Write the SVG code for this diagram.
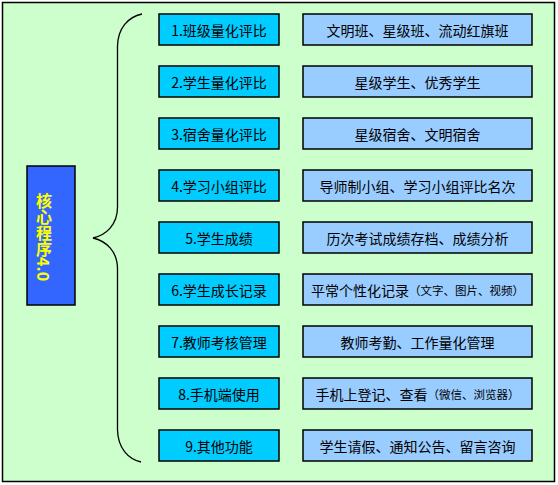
<svg xmlns="http://www.w3.org/2000/svg" width="558" height="485" viewBox="0 0 558 485">
<style>
.bg{fill:#CCFFCC;stroke:#000;stroke-width:1.5}
.l{fill:#00CCFF;stroke:#000;stroke-width:1.5}
.r{fill:#99CCFF;stroke:#000;stroke-width:1.5}
text{font-family:"Noto Sans CJK SC","Noto Sans",sans-serif;font-size:14px;fill:#000;text-anchor:middle;dominant-baseline:central}
.s{font-size:11.5px}
.core{fill:#FFFF00;font-size:16px;font-weight:bold}
</style>
<rect class="bg" x="2.5" y="2.5" width="552" height="479"/>
<g id="core">
<rect x="27" y="166" width="48" height="139" fill="#3366FF" stroke="#000" stroke-width="1.5"/>
<text class="core" x="44" y="193" writing-mode="tb" style="dominant-baseline:central;text-anchor:start">核心程序4.0</text>
</g>
<g id="connectors">
<path d="M142 14 C128 17 118 28 117.5 46 L117.5 207 C117.5 225 106 235 93 238 C106 241 117.5 251 117.5 269 L117.5 430 C118 448 128 459 141 462" fill="none" stroke="#000" stroke-width="1.3"/>
</g>
<g id="n1"><rect class="l" x="159" y="14" width="120" height="31"/><text x="219" y="30">1.班级量化评比</text></g>
<g id="d1"><rect class="r" x="303" y="14" width="229" height="31"/><text x="417.5" y="30">文明班、星级班、流动红旗班</text></g>
<g id="n2"><rect class="l" x="159" y="66" width="120" height="31"/><text x="219" y="82">2.学生量化评比</text></g>
<g id="d2"><rect class="r" x="303" y="66" width="229" height="31"/><text x="417.5" y="82">星级学生、优秀学生</text></g>
<g id="n3"><rect class="l" x="159" y="118" width="120" height="31"/><text x="219" y="134">3.宿舍量化评比</text></g>
<g id="d3"><rect class="r" x="303" y="118" width="229" height="31"/><text x="417.5" y="134">星级宿舍、文明宿舍</text></g>
<g id="n4"><rect class="l" x="159" y="170" width="120" height="31"/><text x="219" y="186">4.学习小组评比</text></g>
<g id="d4"><rect class="r" x="303" y="170" width="229" height="31"/><text x="417.5" y="186">导师制小组、学习小组评比名次</text></g>
<g id="n5"><rect class="l" x="159" y="222" width="120" height="31"/><text x="219" y="238">5.学生成绩</text></g>
<g id="d5"><rect class="r" x="303" y="222" width="229" height="31"/><text x="417.5" y="238">历次考试成绩存档、成绩分析</text></g>
<g id="n6"><rect class="l" x="159" y="274" width="120" height="31"/><text x="219" y="290">6.学生成长记录</text></g>
<g id="d6"><rect class="r" x="303" y="274" width="229" height="31"/><text x="417.5" y="290">平常个性化记录<tspan class="s">（文字、图片、视频）</tspan></text></g>
<g id="n7"><rect class="l" x="159" y="326" width="120" height="31"/><text x="219" y="342">7.教师考核管理</text></g>
<g id="d7"><rect class="r" x="303" y="326" width="229" height="31"/><text x="417.5" y="342">教师考勤、工作量化管理</text></g>
<g id="n8"><rect class="l" x="159" y="378" width="120" height="31"/><text x="219" y="394">8.手机端使用</text></g>
<g id="d8"><rect class="r" x="303" y="378" width="229" height="31"/><text x="417.5" y="394">手机上登记、查看<tspan class="s">（微信、浏览器）</tspan></text></g>
<g id="n9"><rect class="l" x="159" y="430" width="120" height="31"/><text x="219" y="446">9.其他功能</text></g>
<g id="d9"><rect class="r" x="303" y="430" width="229" height="31"/><text x="417.5" y="446">学生请假、通知公告、留言咨询</text></g>
</svg>
